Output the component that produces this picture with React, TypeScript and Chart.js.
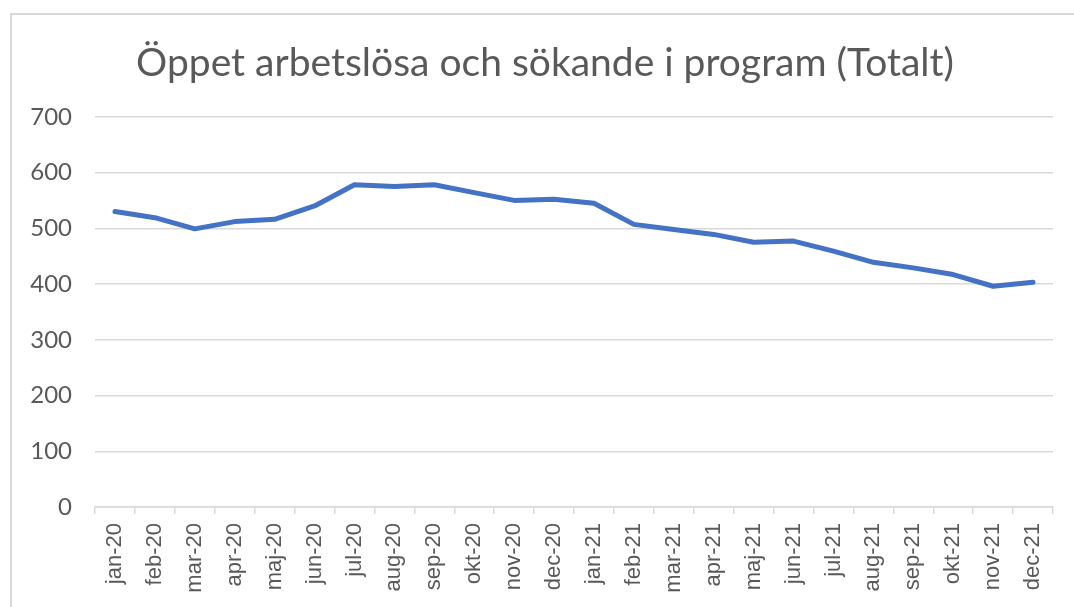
import React, { useEffect, useRef } from "react";
import { Chart, registerables } from "chart.js";

Chart.register(...registerables);

const TITLE = "Öppet arbetslösa och sökande i program (Totalt)";

const months: string[] = [
  "jan-20", "feb-20", "mar-20", "apr-20", "maj-20", "jun-20",
  "jul-20", "aug-20", "sep-20", "okt-20", "nov-20", "dec-20",
  "jan-21", "feb-21", "mar-21", "apr-21", "maj-21", "jun-21",
  "jul-21", "aug-21", "sep-21", "okt-21", "nov-21", "dec-21",
];

const totalt: number[] = [
  530, 519, 499, 512, 516, 540, 578, 575, 578, 564, 550, 552,
  545, 507, 498, 489, 475, 477, 459, 439, 429, 417, 396, 403,
];

const yMin = 0;
const yMax = 700;
const yStep = 100;

const TEXT = "#595959";
const GRID = "#d9d9d9";
const LINE = "#4472C4";

// Widen the y-axis box leftwards after layout so its labels are not clipped,
// while the title stays centred where it is in the reference.
const widenYAxis = {
  id: "widenYAxis",
  afterLayout(chart: any) {
    const y = chart.scales.y;
    if (y) y.left = 0;
  },
};

export default function App() {
  const ref = useRef<HTMLCanvasElement | null>(null);

  useEffect(() => {
    if (!ref.current) return;
    const chart = new Chart(ref.current, {
      type: "line",
      data: {
        labels: months,
        datasets: [
          {
            label: "Totalt",
            data: totalt,
            borderColor: LINE,
            backgroundColor: LINE,
            borderWidth: 5,
            pointRadius: 0,
            pointHoverRadius: 0,
            fill: false,
            tension: 0,
            borderCapStyle: "round",
            borderJoinStyle: "round",
          },
        ],
      },
      options: {
        responsive: false,
        animation: false,
        devicePixelRatio: 1,
        layout: { padding: { left: 37, right: 21, top: 0, bottom: 0 } },
        plugins: {
          legend: { display: false },
          tooltip: { enabled: false },
          title: {
            display: true,
            text: TITLE,
            color: TEXT,
            font: { family: "Lato", size: 39, weight: "normal", lineHeight: 1.2 },
            padding: { top: 40, bottom: 30 },
          },
        },
        scales: {
          x: {
            offset: true,
            grid: {
              display: true,
              drawOnChartArea: false,
              drawTicks: true,
              tickLength: 7,
              offset: true,
              color: GRID,
              lineWidth: 1.5,
            },
            border: { display: true, color: GRID, width: 1.5 },
            ticks: {
              autoSkip: false,
              minRotation: 90,
              maxRotation: 90,
              padding: 9,
              color: TEXT,
              font: { family: "Liberation Sans", size: 22 },
            },
            afterFit: (scale: any) => {
              scale.height = 100;
            },
          },
          y: {
            min: yMin,
            max: yMax,
            grid: {
              color: GRID,
              lineWidth: 1.5,
              drawTicks: false,
            },
            border: { display: false },
            ticks: {
              stepSize: yStep,
              padding: 23,
              color: TEXT,
              font: { family: "Lato", size: 24 },
            },
            afterFit: (scale: any) => {
              scale.width = 58;
            },
          },
        },
      },
      plugins: [widenYAxis],
    });
    return () => chart.destroy();
  }, []);

  return (
    <div
      style={{
        position: "fixed",
        left: 0,
        top: 0,
        width: 1074,
        height: 607,
        overflow: "hidden",
        background: "#ffffff",
      }}
    >
      <div
        style={{
          position: "absolute",
          left: 10,
          top: 13,
          width: 1200,
          height: 700,
          borderLeft: `2px solid ${GRID}`,
          borderTop: `2px solid ${GRID}`,
          boxSizing: "border-box",
        }}
      />
      <canvas
        ref={ref}
        width={1074}
        height={607}
        style={{ position: "absolute", left: 0, top: 0, width: 1074, height: 607 }}
      />
    </div>
  );
}
